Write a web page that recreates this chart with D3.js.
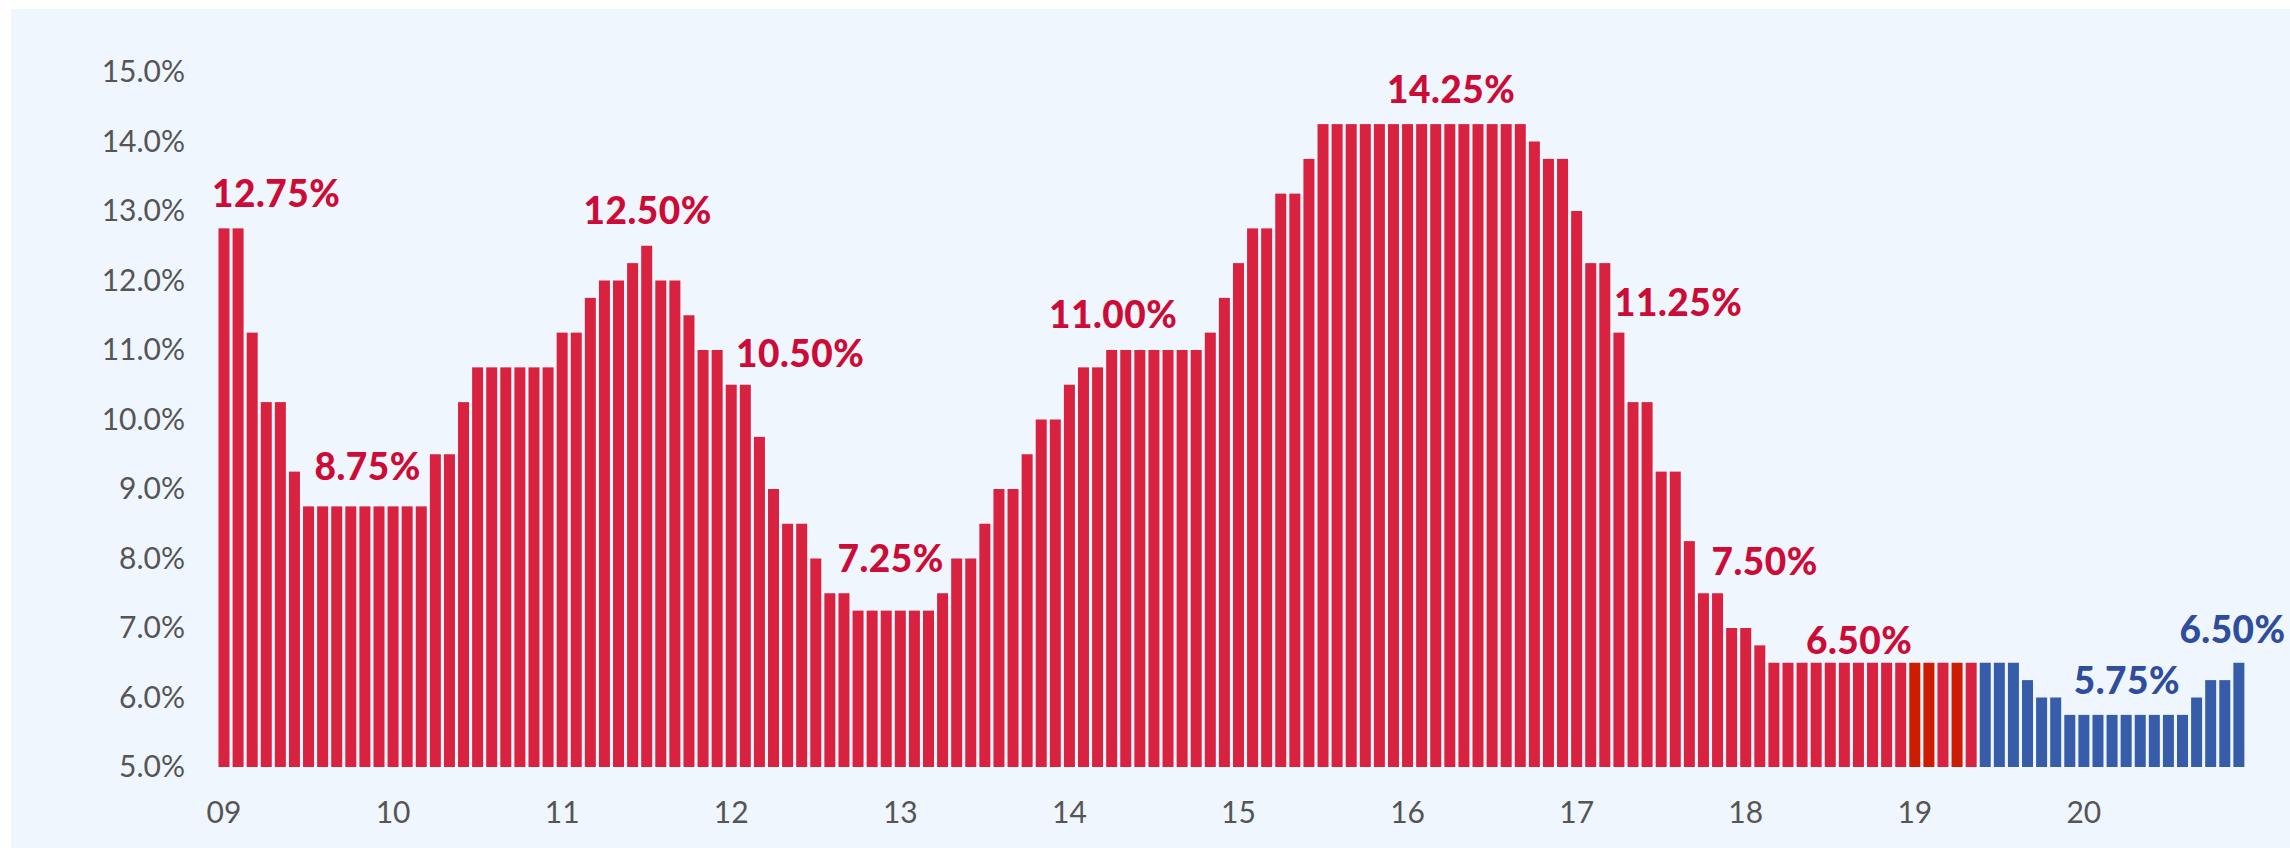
<!DOCTYPE html>
<html>
<head>
<meta charset="utf-8">
<script src="https://cdn.jsdelivr.net/npm/d3@7"></script>
<style>
  html, body { margin: 0; padding: 0; background: #ffffff; }
  svg { display: block; }
</style>
</head>
<body>
<svg id="chart" width="2290" height="848"></svg>
<script>
// Policy rate, end of month, Jan 2009 – Dec 2020 (percent)
const years = ["09", "10", "11", "12", "13", "14", "15", "16", "17", "18", "19", "20"];

const rate2009 = [12.75, 12.75, 11.25, 10.25, 10.25, 9.25, 8.75, 8.75, 8.75, 8.75, 8.75, 8.75];
const rate2010 = [8.75, 8.75, 8.75, 9.50, 9.50, 10.25, 10.75, 10.75, 10.75, 10.75, 10.75, 10.75];
const rate2011 = [11.25, 11.25, 11.75, 12.00, 12.00, 12.25, 12.50, 12.00, 12.00, 11.50, 11.00, 11.00];
const rate2012 = [10.50, 10.50, 9.75, 9.00, 8.50, 8.50, 8.00, 7.50, 7.50, 7.25, 7.25, 7.25];
const rate2013 = [7.25, 7.25, 7.25, 7.50, 8.00, 8.00, 8.50, 9.00, 9.00, 9.50, 10.00, 10.00];
const rate2014 = [10.50, 10.75, 10.75, 11.00, 11.00, 11.00, 11.00, 11.00, 11.00, 11.00, 11.25, 11.75];
const rate2015 = [12.25, 12.75, 12.75, 13.25, 13.25, 13.75, 14.25, 14.25, 14.25, 14.25, 14.25, 14.25];
const rate2016 = [14.25, 14.25, 14.25, 14.25, 14.25, 14.25, 14.25, 14.25, 14.25, 14.00, 13.75, 13.75];
const rate2017 = [13.00, 12.25, 12.25, 11.25, 10.25, 10.25, 9.25, 9.25, 8.25, 7.50, 7.50, 7.00];
const rate2018 = [7.00, 6.75, 6.50, 6.50, 6.50, 6.50, 6.50, 6.50, 6.50, 6.50, 6.50, 6.50];
const rate2019 = [6.50, 6.50, 6.50, 6.50, 6.50, 6.50, 6.50, 6.50, 6.25, 6.00, 6.00, 5.75];
const rate2020 = [5.75, 5.75, 5.75, 5.75, 5.75, 5.75, 5.75, 5.75, 6.00, 6.25, 6.25, 6.50];

const ratesByYear = [rate2009, rate2010, rate2011, rate2012, rate2013, rate2014,
                     rate2015, rate2016, rate2017, rate2018, rate2019, rate2020];

// Months shown in the darker red, and the first month of the projected path
const highlightMonths = ["19-01", "19-02", "19-04"];
const projectionStart = "19-06";

// Y axis ticks (percent)
const yTicks = [5, 6, 7, 8, 9, 10, 11, 12, 13, 14, 15];

// Callouts: the month they sit over (fractional month position), the rate they state,
// the level (percent) of their baseline, and which series they belong to
const calloutMonth = [3.7, 10.2, 30.07, 40.89, 47.32, 63.11, 87.1, 103.21, 109.35, 116.05, 135.05, 142.55];
const calloutRate  = [12.75, 8.75, 12.50, 10.50, 7.25, 11.00, 14.25, 11.25, 7.50, 6.50, 5.75, 6.50];
const calloutLevel = [13.06, 9.13, 12.81, 10.76, 7.81, 11.31, 14.56, 11.49, 7.76, 6.63, 6.05, 6.79];
const calloutSeries = ["hist", "hist", "hist", "hist", "hist", "hist", "hist", "hist", "hist", "hist", "proj", "proj"];

// ---------------------------------------------------------------------------

const bars = [];
years.forEach((yy, yi) => {
  ratesByYear[yi].forEach((v, mi) => {
    const key = yy + "-" + String(mi + 1).padStart(2, "0");
    let kind = "hist";
    if (key >= projectionStart) kind = "proj";
    else if (highlightMonths.includes(key)) kind = "highlight";
    bars.push({ key, year: yy, month: mi + 1, value: v, kind });
  });
});

const W = 2290, H = 848;
const svg = d3.select("#chart");

const colors = {
  hist: "#d92240",
  highlight: "#cc1d00",
  proj: "#375ca9"
};
const labelColors = { hist: "#cc0b36", proj: "#2f4d9d" };

// Panel background
svg.append("rect").attr("x", 0).attr("y", 0).attr("width", W).attr("height", H).attr("fill", "#ffffff");
svg.append("rect").attr("x", 11).attr("y", 9).attr("width", W - 11).attr("height", H - 9).attr("fill", "#eff6fe");

const step = 14.09;
const x0 = 224 - step / 2;
const x = d3.scaleBand()
  .domain(bars.map(d => d.key))
  .range([x0, x0 + step * bars.length])
  .paddingInner(0.22)
  .paddingOuter(0.11);

const y = d3.scaleLinear().domain([5, 15]).range([767, 72]);

// position helper for fractional month positions
const xPos = m => x(bars[0].key) + x.bandwidth() / 2 + m * x.step();

// Bars
svg.append("g")
  .selectAll("rect")
  .data(bars)
  .join("rect")
  .attr("x", d => x(d.key))
  .attr("width", x.bandwidth())
  .attr("y", d => y(d.value))
  .attr("height", d => y(5) - y(d.value))
  .attr("fill", d => colors[d.kind]);

// Y axis
const yAxis = d3.axisLeft(y)
  .tickValues(yTicks)
  .tickSize(0)
  .tickPadding(5)
  .tickFormat(d => d.toFixed(1) + "%");

const gy = svg.append("g").attr("transform", "translate(190,0)").call(yAxis);
gy.select(".domain").remove();
gy.selectAll("text")
  .attr("fill", "#555555")
  .style("font-family", "Lato, 'Open Sans', sans-serif")
  .style("font-size", "30px");

// X axis: one label per January
const januaries = bars.filter(d => d.month === 1).map(d => d.key);
const xAxis = d3.axisBottom(x)
  .tickValues(januaries)
  .tickSize(0)
  .tickPadding(35)
  .tickFormat(k => k.slice(0, 2));

const gx = svg.append("g").attr("transform", `translate(0,${y(5)})`).call(xAxis);
gx.select(".domain").remove();
gx.selectAll("text")
  .attr("fill", "#555555")
  .style("font-family", "Lato, 'Open Sans', sans-serif")
  .style("font-size", "30px");

// Callouts
const callouts = calloutRate.map((r, i) => ({
  rate: r, month: calloutMonth[i], level: calloutLevel[i], series: calloutSeries[i]
}));

svg.append("g")
  .selectAll("text")
  .data(callouts)
  .join("text")
  .attr("x", d => xPos(d.month))
  .attr("y", d => y(d.level))
  .attr("text-anchor", "middle")
  .attr("fill", d => labelColors[d.series])
  .style("font-family", "Lato, 'Open Sans', sans-serif")
  .style("font-weight", "900")
  .style("font-size", "37px")
  .style("letter-spacing", "0.5px")
  .text(d => d.rate.toFixed(2) + "%");
</script>
</body>
</html>
